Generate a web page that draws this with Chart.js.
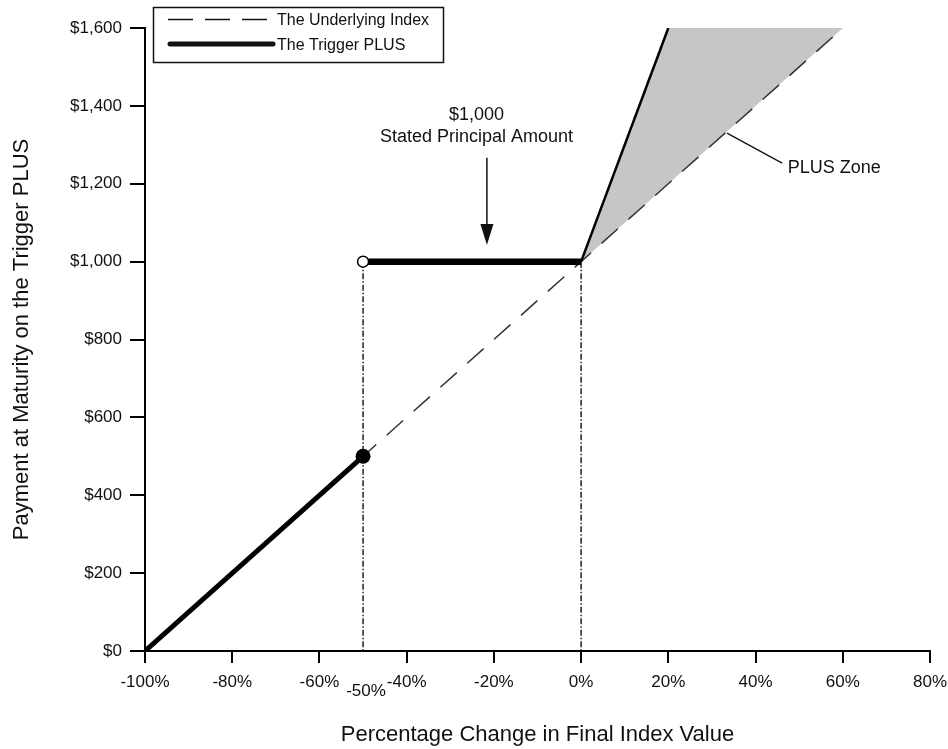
<!DOCTYPE html>
<html>
<head>
<meta charset="utf-8">
<title>Trigger PLUS payoff</title>
<script src="https://cdn.jsdelivr.net/npm/chart.js@4.4.1/dist/chart.umd.min.js"></script>
<style>
  html, body { margin: 0; padding: 0; background: #fff; }
  #payoff { display: block; }
</style>
</head>
<body>
<canvas id="payoff" width="948" height="749"></canvas>
<script>
// tick labels
const xTicks = [-100, -80, -60, -40, -20, 0, 20, 40, 60, 80];
const yTicks = [0, 200, 400, 600, 800, 1000, 1200, 1400, 1600];

// underlying index: $1,000 moves 1:1 with the index
const indexPct = [-100, 60];
const indexPay = [0, 1600];

// trigger PLUS payoff pieces
const lossPct = [-100, -50];
const lossPay = [0, 500];
const flatPct = [-50, 0];
const flatPay = [1000, 1000];
const upPct = [0, 20];
const upPay = [1000, 1600];

// PLUS zone (between leveraged line and index)
const zonePct = [0, 20, 60, 0];
const zonePay = [1000, 1600, 1600, 1000];

const barrierPct = -50;
const principal = 1000;

const INK = '#111';
const FONT = '"Liberation Sans", Arial, sans-serif';

const pts = (xs, ys) => xs.map((x, i) => ({ x: x, y: ys[i] }));

// legend, notes, arrow and the extra -50% label
const decor = {
    id: 'decor',
    afterDatasetsDraw(chart) {
        const ctx = chart.ctx;
        const xs = chart.scales.x;
        const ys = chart.scales.y;
        const px = v => xs.getPixelForValue(v);
        const py = v => ys.getPixelForValue(v);

        ctx.save();
        ctx.fillStyle = INK;
        ctx.strokeStyle = INK;

        // legend box
        ctx.fillStyle = '#fff';
        ctx.fillRect(153, 7, 290, 55);
        ctx.fillStyle = INK;
        ctx.lineWidth = 1.5;
        ctx.strokeRect(153.5, 7.5, 290, 55);

        ctx.beginPath();
        ctx.setLineDash([25, 12]);
        ctx.lineWidth = 1.5;
        ctx.moveTo(168, 19.5);
        ctx.lineTo(273, 19.5);
        ctx.stroke();
        ctx.setLineDash([]);

        ctx.beginPath();
        ctx.lineWidth = 5;
        ctx.lineCap = 'round';
        ctx.moveTo(170, 44);
        ctx.lineTo(273, 44);
        ctx.stroke();
        ctx.lineCap = 'butt';

        ctx.font = '16px ' + FONT;
        ctx.textAlign = 'left';
        ctx.textBaseline = 'middle';
        ctx.fillText('The Underlying Index', 277, 21);
        ctx.fillText('The Trigger PLUS', 277, 46);

        // stated principal note + arrow
        ctx.font = '18px ' + FONT;
        ctx.textAlign = 'center';
        ctx.fillText('$1,000', px(-24), py(1376));
        ctx.fillText('Stated Principal Amount', px(-24), py(1320));

        const ax = px(-21.6);
        const top = py(1267);
        const tip = py(1043);
        ctx.beginPath();
        ctx.lineWidth = 1.5;
        ctx.moveTo(ax, top);
        ctx.lineTo(ax, tip - 18);
        ctx.stroke();
        ctx.beginPath();
        ctx.moveTo(ax - 6.5, tip - 21);
        ctx.lineTo(ax + 6.5, tip - 21);
        ctx.lineTo(ax, tip);
        ctx.closePath();
        ctx.fill();

        // PLUS zone leader
        ctx.beginPath();
        ctx.lineWidth = 1.3;
        ctx.moveTo(px(33.45), py(1330));
        ctx.lineTo(px(46.1), py(1253));
        ctx.stroke();
        ctx.textAlign = 'left';
        ctx.fillText('PLUS Zone', px(47.4), py(1240));

        // extra -50% tick label
        ctx.font = '17px ' + FONT;
        ctx.textAlign = 'center';
        ctx.fillText(barrierPct + '%', px(barrierPct) + 3, 691);

        ctx.restore();
    }
};

const guide = {
    borderColor: INK,
    borderWidth: 1.4,
    borderDash: [6, 2, 1.5, 2],
    pointRadius: 0,
    showLine: true,
    fill: false,
    order: 4
};

new Chart(document.getElementById('payoff'), {
    type: 'scatter',
    data: {
        datasets: [
            {
                label: 'Flat',
                data: pts(flatPct, flatPay),
                showLine: true,
                borderColor: '#000',
                borderWidth: 6.5,
                pointRadius: [5.5, 0],
                pointBackgroundColor: '#fff',
                pointBorderColor: '#000',
                pointBorderWidth: 1.5,
                order: 0
            },
            {
                label: 'Loss',
                data: pts(lossPct, lossPay),
                showLine: true,
                borderColor: '#000',
                borderWidth: 5,
                pointRadius: [0, 7.5],
                pointBackgroundColor: '#000',
                pointBorderWidth: 0,
                order: 1
            },
            {
                label: 'Leveraged',
                data: pts(upPct, upPay),
                showLine: true,
                borderColor: '#000',
                borderWidth: 2.5,
                pointRadius: 0,
                order: 1
            },
            {
                label: 'The Underlying Index',
                data: pts(indexPct, indexPay),
                showLine: true,
                borderColor: '#333',
                borderWidth: 1.5,
                borderDash: [22, 14],
                pointRadius: 0,
                order: 3
            },
            Object.assign({ label: 'Trigger', data: pts([barrierPct, barrierPct], [principal, 0]) }, guide),
            Object.assign({ label: 'Initial', data: pts([0, 0], [principal, 0]) }, guide),
            {
                label: 'PLUS Zone',
                data: pts(zonePct, zonePay),
                showLine: true,
                borderWidth: 0,
                borderColor: 'rgba(0,0,0,0)',
                backgroundColor: '#c6c6c6',
                fill: 'shape',
                pointRadius: 0,
                order: 5
            }
        ]
    },
    options: {
        responsive: false,
        animation: false,
        layout: { padding: { top: 28, right: 18, bottom: 0, left: 0 } },
        plugins: {
            legend: { display: false },
            tooltip: { enabled: false }
        },
        scales: {
            x: {
                type: 'linear',
                min: -100,
                max: 80,
                afterBuildTicks: s => { s.ticks = xTicks.map(v => ({ value: v })); },
                afterFit: s => { s.height = 98; s.paddingLeft = 0; s.paddingRight = 0; },
                ticks: {
                    callback: v => v + '%',
                    color: INK,
                    font: { family: FONT, size: 17 },
                    padding: 9,
                    maxRotation: 0,
                    autoSkip: false
                },
                grid: { drawOnChartArea: false, tickLength: 12, color: '#000', lineWidth: 2 },
                border: { color: '#000', width: 2 },
                title: {
                    display: true,
                    text: 'Percentage Change in Final Index Value',
                    color: INK,
                    font: { family: FONT, size: 22 },
                    padding: { top: 0, bottom: 1 }
                }
            },
            y: {
                min: 0,
                max: 1600,
                afterBuildTicks: s => { s.ticks = yTicks.map(v => ({ value: v })); },
                afterFit: s => { s.width = 145; s.paddingTop = 0; s.paddingBottom = 0; },
                ticks: {
                    callback: v => '$' + v.toLocaleString('en-US'),
                    color: INK,
                    font: { family: FONT, size: 17 },
                    padding: 8,
                    autoSkip: false
                },
                grid: { drawOnChartArea: false, tickLength: 15, color: '#000', lineWidth: 2 },
                border: { color: '#000', width: 2 },
                title: {
                    display: true,
                    text: 'Payment at Maturity on the Trigger PLUS',
                    color: INK,
                    font: { family: FONT, size: 22 },
                    padding: { top: 9, bottom: 0 }
                }
            }
        }
    },
    plugins: [decor]
});
</script>
</body>
</html>
